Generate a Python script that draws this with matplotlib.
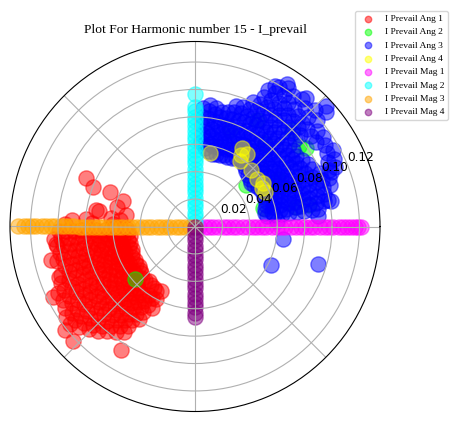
import numpy as np
import matplotlib
matplotlib.use("Agg")
import matplotlib.pyplot as plt

# I Prevail Ang 1 (red): dense core read band by band (angle in degrees -> magnitudes)
ang1_band_deg = [182, 185, 188, 191, 194, 197, 200, 203, 206, 209, 212, 215,
                 218, 221, 224, 227, 230, 233, 236, 239, 242]
ang1_band_mag = [
    [0.050, 0.055, 0.061, 0.066, 0.072, 0.077, 0.083, 0.088, 0.094, 0.099],
    [0.049, 0.054, 0.060, 0.065, 0.071, 0.076, 0.082, 0.087, 0.093, 0.098, 0.103],
    [0.048, 0.053, 0.059, 0.064, 0.070, 0.075, 0.081, 0.086, 0.092, 0.097, 0.102],
    [0.050, 0.056, 0.061, 0.067, 0.072, 0.078, 0.083, 0.089, 0.094, 0.100],
    [0.049, 0.055, 0.060, 0.066, 0.071, 0.077, 0.082, 0.088, 0.093, 0.099, 0.104],
    [0.050, 0.055, 0.061, 0.066, 0.072, 0.077, 0.083, 0.088, 0.094, 0.099],
    [0.049, 0.054, 0.060, 0.065, 0.071, 0.076, 0.082, 0.087, 0.093, 0.098, 0.104],
    [0.050, 0.056, 0.061, 0.067, 0.072, 0.078, 0.083, 0.089, 0.094, 0.100, 0.106],
    [0.051, 0.056, 0.062, 0.067, 0.073, 0.078, 0.084, 0.089, 0.095, 0.100, 0.106, 0.111],
    [0.050, 0.055, 0.061, 0.066, 0.072, 0.077, 0.083, 0.088, 0.094, 0.099, 0.105, 0.110],
    [0.051, 0.057, 0.062, 0.068, 0.073, 0.079, 0.084, 0.090, 0.095, 0.101, 0.106, 0.112],
    [0.050, 0.055, 0.061, 0.066, 0.072, 0.077, 0.083, 0.088, 0.094, 0.099, 0.105, 0.110, 0.115],
    [0.051, 0.056, 0.062, 0.067, 0.073, 0.078, 0.084, 0.089, 0.095, 0.100, 0.106, 0.111, 0.116],
    [0.052, 0.058, 0.063, 0.069, 0.074, 0.080, 0.085, 0.091, 0.096, 0.102, 0.107, 0.112],
    [0.054, 0.059, 0.065, 0.070, 0.076, 0.081, 0.087, 0.092, 0.098, 0.103, 0.108],
    [0.053, 0.061, 0.066, 0.072, 0.077, 0.083, 0.088, 0.094, 0.099, 0.104],
    [0.052, 0.062, 0.067, 0.073, 0.078, 0.084, 0.089, 0.095, 0.100],
    [0.053, 0.063, 0.069, 0.074, 0.080, 0.085, 0.091, 0.096],
    [0.054, 0.060, 0.066, 0.071, 0.077, 0.082, 0.088, 0.093],
    [0.055, 0.061, 0.067, 0.073, 0.079],
    [0.053, 0.060, 0.067],
]
# scattered red points around the core
ang1_out_deg = [156, 159, 158, 160.5, 166, 170.5, 171, 170.5, 174, 176, 177, 175, 178, 178, 179,
                187, 193.2, 200.4, 206.4, 218.5, 223, 239]
ang1_out_mag = [0.087, 0.080, 0.067, 0.056, 0.059, 0.073, 0.071, 0.051, 0.062, 0.080, 0.090, 0.055,
                0.060, 0.075, 0.095, 0.102, 0.108, 0.106, 0.116, 0.121, 0.122, 0.105]

ang2_deg = [220.9, 35.3, 37.8, 10.7, 11.1, 39.6, 15, 50, 60, 30, 45, 70]
ang2_mag = [0.058, 0.099, 0.096, 0.085, 0.075, 0.048, 0.051, 0.080, 0.090, 0.070, 0.100, 0.075]

# I Prevail Ang 3 (blue)
ang3_band_deg = [8, 11, 14, 17, 20, 23, 26, 29, 32, 35, 38, 41, 44, 47, 50, 53, 56, 59,
                 62, 65, 68, 71, 74, 77, 80, 83, 86]
ang3_band_mag = [
    [0.053, 0.058, 0.064, 0.069, 0.075, 0.080, 0.086, 0.091],
    [0.052, 0.057, 0.063, 0.068, 0.074, 0.079, 0.085, 0.090, 0.096],
    [0.053, 0.059, 0.064, 0.070, 0.075, 0.081, 0.086, 0.092, 0.097],
    [0.054, 0.060, 0.065, 0.071, 0.076, 0.082, 0.087, 0.093, 0.098, 0.103],
    [0.055, 0.061, 0.066, 0.072, 0.077, 0.083, 0.088, 0.094, 0.099, 0.104],
    [0.055, 0.060, 0.066, 0.071, 0.077, 0.082, 0.088, 0.093, 0.099, 0.106, 0.111],
    [0.056, 0.062, 0.067, 0.073, 0.078, 0.084, 0.089, 0.095, 0.108, 0.113],
    [0.055, 0.061, 0.066, 0.072, 0.077, 0.083, 0.088, 0.094, 0.110, 0.115],
    [0.054, 0.060, 0.065, 0.071, 0.076, 0.082, 0.087, 0.092, 0.112],
    [0.053, 0.059, 0.064, 0.070, 0.075, 0.081, 0.086, 0.090, 0.108, 0.114],
    [0.052, 0.058, 0.063, 0.069, 0.074, 0.080, 0.085, 0.091, 0.107, 0.113],
    [0.053, 0.058, 0.064, 0.069, 0.075, 0.080, 0.086, 0.091, 0.097, 0.102, 0.108, 0.118, 0.127],
    [0.054, 0.060, 0.065, 0.071, 0.076, 0.082, 0.087, 0.093, 0.098, 0.104, 0.109, 0.115, 0.122],
    [0.055, 0.061, 0.066, 0.072, 0.077, 0.083, 0.088, 0.094, 0.099, 0.105, 0.110, 0.118],
    [0.057, 0.062, 0.068, 0.073, 0.079, 0.084, 0.090, 0.095, 0.101, 0.106, 0.112, 0.121],
    [0.058, 0.064, 0.069, 0.075, 0.080, 0.086, 0.091, 0.097, 0.102, 0.108, 0.113, 0.119],
    [0.059, 0.065, 0.070, 0.076, 0.081, 0.087, 0.092, 0.098, 0.103, 0.109, 0.116, 0.122],
    [0.058, 0.064, 0.069, 0.075, 0.080, 0.086, 0.091, 0.097, 0.102, 0.108, 0.114, 0.119],
    [0.057, 0.063, 0.068, 0.074, 0.079, 0.085, 0.090, 0.096, 0.101, 0.107, 0.113],
    [0.056, 0.062, 0.067, 0.073, 0.078, 0.084, 0.089, 0.095, 0.100],
    [0.056, 0.061, 0.067, 0.072, 0.078, 0.083, 0.089, 0.094],
    [0.055, 0.061, 0.066, 0.072, 0.077, 0.083, 0.088, 0.093],
    [0.055, 0.060, 0.066, 0.071, 0.077, 0.082, 0.087],
    [0.054, 0.060, 0.065, 0.071, 0.076, 0.082, 0.086],
    [0.056, 0.061, 0.067, 0.072, 0.078, 0.083, 0.088],
    [0.058, 0.063, 0.069, 0.074, 0.080, 0.085, 0.089],
    [0.062, 0.068, 0.074, 0.080, 0.087],
]
ang3_out_deg = [-7.8, -27, -17, 4, 5, 10.5, 42.6, 49, 57.2, 60.4, 21.7, 11.4]
ang3_out_mag = [0.065, 0.062, 0.094, 0.060, 0.090, 0.101, 0.130, 0.124, 0.124, 0.118, 0.107, 0.099]

ang4_deg = [78.5, 59.1, 54, 55.2, 45.7, 37, 32.2, 26.3, 29.7, 57]
ang4_mag = [0.055, 0.067, 0.065, 0.058, 0.058, 0.057, 0.059, 0.057, 0.056, 0.062]

# magnitude series sit on fixed angles
mag1_deg = 0
mag1_mag = [0.000, 0.003, 0.007, 0.010, 0.013, 0.017, 0.021, 0.024, 0.028, 0.031, 0.035, 0.039,
            0.042, 0.045, 0.049, 0.052, 0.056, 0.060, 0.063, 0.066, 0.070, 0.074, 0.077, 0.080,
            0.084, 0.087, 0.091, 0.095, 0.098, 0.101, 0.105, 0.108, 0.111, 0.114, 0.117, 0.119, 0.121]
mag2_deg = 90
mag2_mag = [0.000, 0.003, 0.007, 0.010, 0.014, 0.017, 0.021, 0.025, 0.028, 0.031, 0.035, 0.038,
            0.042, 0.046, 0.049, 0.052, 0.056, 0.059, 0.063, 0.066, 0.070, 0.073, 0.077, 0.080,
            0.084, 0.087, 0.097]
mag3_deg = 180
mag3_mag = [0.000, 0.004, 0.007, 0.011, 0.014, 0.018, 0.021, 0.025, 0.028, 0.032, 0.035, 0.039,
            0.042, 0.046, 0.049, 0.053, 0.056, 0.060, 0.063, 0.067, 0.070, 0.074, 0.077, 0.081,
            0.084, 0.088, 0.091, 0.095, 0.098, 0.102, 0.105, 0.109, 0.112, 0.116, 0.119, 0.122,
            0.125, 0.129]
mag4_deg = 270
mag4_mag = [0.000, 0.003, 0.007, 0.010, 0.014, 0.017, 0.021, 0.024, 0.028, 0.031, 0.035, 0.038,
            0.042, 0.045, 0.049, 0.052, 0.056, 0.059, 0.063, 0.066]

labels = ["I Prevail Ang 1", "I Prevail Ang 2", "I Prevail Ang 3", "I Prevail Ang 4",
          "I Prevail Mag 1", "I Prevail Mag 2", "I Prevail Mag 3", "I Prevail Mag 4"]
colors = ["red", "lime", "blue", "yellow", "magenta", "cyan", "orange", "purple"]
rticks = [0.02, 0.04, 0.06, 0.08, 0.10, 0.12]


def flatten(band_deg, band_mag, out_deg, out_mag):
    deg = [d for d, mags in zip(band_deg, band_mag) for _ in mags] + list(out_deg)
    mag = [m for mags in band_mag for m in mags] + list(out_mag)
    return deg, mag


ang1_deg, ang1_mag = flatten(ang1_band_deg, ang1_band_mag, ang1_out_deg, ang1_out_mag)
ang3_deg, ang3_mag = flatten(ang3_band_deg, ang3_band_mag, ang3_out_deg, ang3_out_mag)

fig = plt.figure(figsize=(4.58, 4.21), dpi=100)
ax = fig.add_axes([10 / 458, 9.5 / 421, 370 / 458, 370 / 421], projection="polar")

series = [
    (ang1_deg, ang1_mag),
    (ang2_deg, ang2_mag),
    (ang3_deg, ang3_mag),
    (ang4_deg, ang4_mag),
    ([mag1_deg] * len(mag1_mag), mag1_mag),
    ([mag2_deg] * len(mag2_mag), mag2_mag),
    ([mag3_deg] * len(mag3_mag), mag3_mag),
    ([mag4_deg] * len(mag4_mag), mag4_mag),
]
for (deg, mag), col, lab in zip(series, colors, labels):
    ax.scatter(np.deg2rad(deg), mag, s=120, c=col, alpha=0.5, label=lab)

ax.set_ylim(0, 0.135)
ax.set_rticks(rticks)
ax.set_yticklabels([f"{t:.2f}" for t in rticks], fontsize=8.7)
ax.set_xticklabels([])
ax.grid(True, color="#b0b0b0")
ax.set_title("Plot For Harmonic number 15 - I_prevail", family="Liberation Serif", fontsize=9.7)

fig.legend(loc="upper right", bbox_to_anchor=(453 / 458, 1 - 6 / 421),
           prop={"family": "Liberation Serif", "size": 6.8}, markerscale=0.42)

fig.savefig("out.png", dpi=100)
